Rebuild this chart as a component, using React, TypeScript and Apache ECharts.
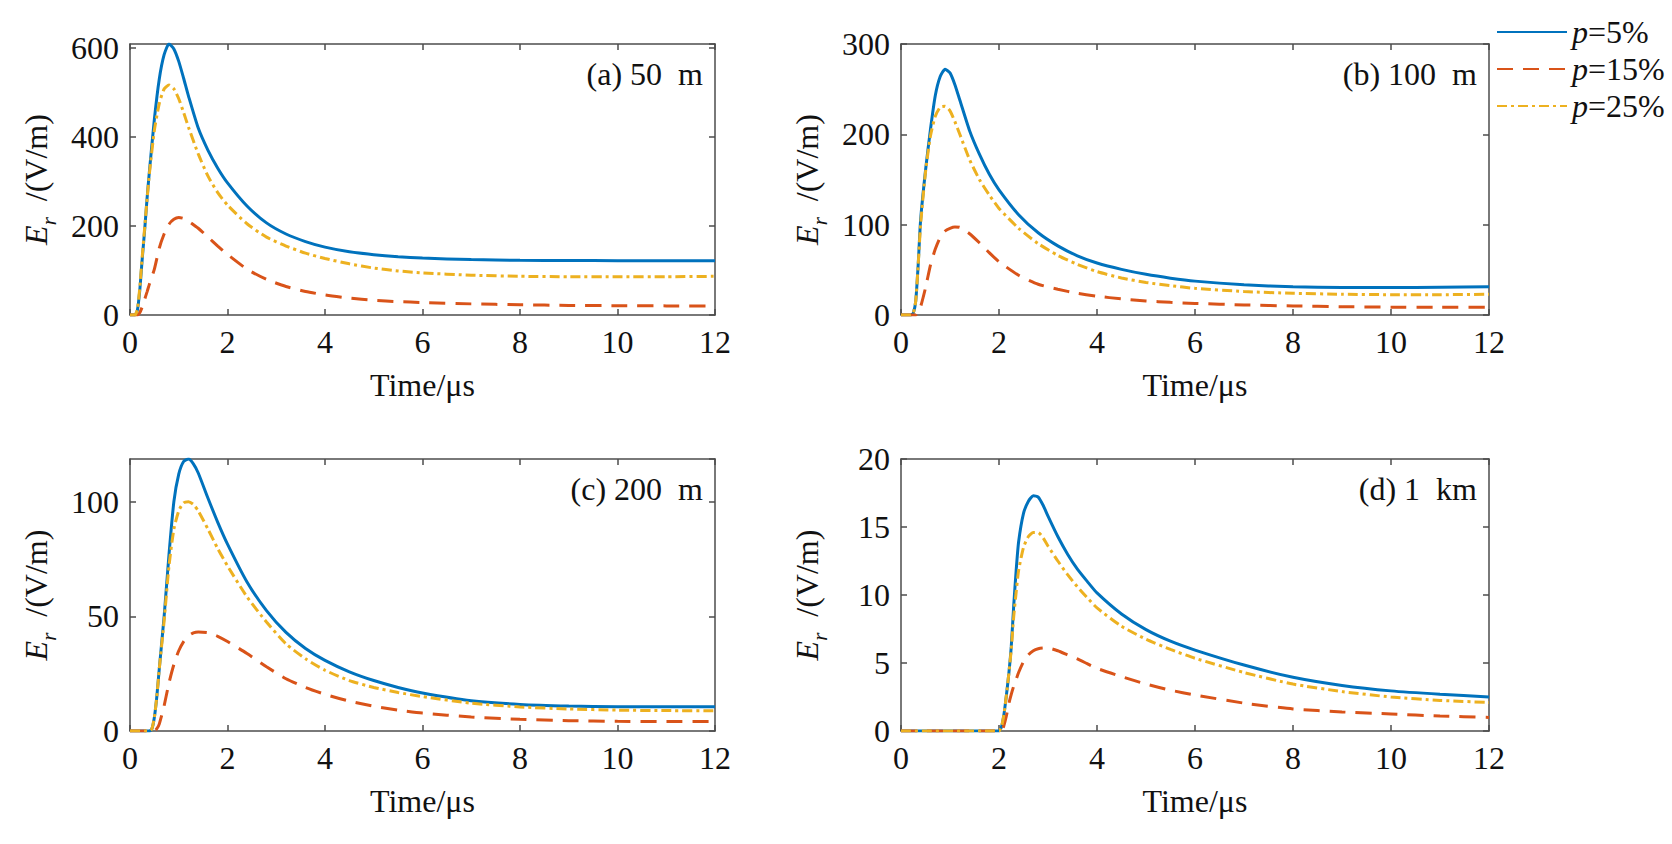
import React, { useEffect, useRef } from "react";
import * as echarts from "echarts";

// (a) 50 m
const timeA = [0, 0.1, 0.15, 0.2, 0.25, 0.3, 0.35, 0.4, 0.5, 0.6, 0.7, 0.8, 0.9, 1.0, 1.1, 1.2, 1.4, 1.6, 1.8, 2.0, 2.4, 2.8, 3.2, 3.6, 4, 4.5, 5, 5.5, 6, 7, 8, 9, 10, 11, 12];
const a5 = [0, 0, 10, 55, 125, 190, 262, 325, 440, 530, 585, 609, 598, 570, 532, 492, 420, 370, 330, 297, 245, 207, 182, 165, 152.5, 142, 135.5, 131, 128, 124.5, 123, 122.5, 122, 122, 122];
const a15 = [0, 0, 0, 5, 18, 35, 52, 70, 103, 150, 182, 204, 215, 219, 217, 211, 195, 175, 155, 136, 103, 80, 64, 53, 45, 38, 33, 30, 28, 25, 23, 21.5, 21, 20.5, 20.5];
const a25 = [0, 0, 12, 60, 130, 195, 260, 320, 415, 475, 508, 517, 508, 486, 455, 422, 362, 312, 275, 247, 205, 175, 155, 139, 127, 115, 105.5, 99, 94.5, 89.5, 87, 86, 86, 86, 87];

// (b) 100 m
const timeB = [0, 0.2, 0.25, 0.3, 0.35, 0.4, 0.5, 0.6, 0.7, 0.8, 0.9, 1.0, 1.1, 1.2, 1.4, 1.6, 1.8, 2.0, 2.4, 2.8, 3.2, 3.6, 4, 4.5, 5, 5.5, 6, 7, 8, 9, 10, 11, 12];
const b5 = [0, 0, 2, 15, 55, 105, 160, 205, 243, 264, 272, 268, 255, 238, 204, 178, 156, 138.5, 111, 91, 76.5, 65.5, 57.5, 50.5, 45, 40.8, 37.5, 33.5, 31.2, 30.4, 30.4, 30.8, 31.2];
const b15 = [0, 0, 0, 0, 3, 9, 30, 55, 73, 86, 93, 96, 97.5, 97, 90, 80, 69, 59, 44, 34, 28.5, 24, 20.8, 17.8, 15.6, 14, 12.8, 11.2, 10, 9.2, 8.7, 8.5, 8.5];
const b25 = [0, 0, 2, 15, 55, 100, 158, 198, 220, 230, 231, 226, 214, 200, 172, 150, 133, 118, 96, 79, 66, 56, 48, 41, 36, 32.5, 29.5, 26, 24, 23, 22.5, 22.5, 23];

// (c) 200 m
const timeC = [0, 0.4, 0.45, 0.5, 0.55, 0.6, 0.7, 0.8, 0.9, 1.0, 1.1, 1.2, 1.3, 1.4, 1.6, 1.8, 2.0, 2.4, 2.8, 3.2, 3.6, 4, 4.5, 5, 5.5, 6, 7, 8, 9, 10, 11, 12];
const c5 = [0, 0, 1, 6, 15, 27, 50, 77, 100, 112, 117.5, 118.6, 116.5, 112.5, 101.5, 91, 81.5, 65, 52.5, 43, 36, 30.8, 25.8, 22, 19, 16.6, 13.2, 11.6, 10.9, 10.6, 10.6, 10.6];
const c15 = [0, 0, 0, 0, 1, 3, 11, 21, 29, 35, 39, 41.5, 42.8, 43.2, 42.9, 41.3, 39, 33.8, 28, 22.8, 19, 16, 13, 10.8, 9.1, 7.8, 6.1, 5.1, 4.5, 4.2, 4.1, 4.1];
const c25 = [0, 0, 1, 6, 15, 27, 48, 72, 88, 96, 99.5, 100, 98.8, 96, 88, 79.5, 72, 58.5, 47.5, 38, 31.5, 26.5, 22, 19, 16.8, 15, 12.1, 10.5, 9.6, 9.1, 8.9, 8.8];

// (d) 1 km
const timeD = [0, 1.9, 2.0, 2.05, 2.1, 2.15, 2.2, 2.25, 2.3, 2.35, 2.4, 2.5, 2.6, 2.7, 2.8, 2.9, 3.0, 3.2, 3.4, 3.6, 3.8, 4.0, 4.5, 5, 5.5, 6, 7, 8, 9, 10, 11, 12];
const d5 = [0, 0, 0, 0.3, 1.2, 2.6, 4.2, 6.2, 9.2, 11.8, 13.9, 16.0, 16.9, 17.3, 17.2, 16.6, 15.8, 14.3, 13.0, 11.9, 11.0, 10.15, 8.6, 7.45, 6.6, 5.95, 4.85, 3.95, 3.35, 2.95, 2.7, 2.5];
const d15 = [0, 0, 0, 0, 0.4, 1.1, 2.0, 2.7, 3.3, 3.8, 4.3, 5.1, 5.6, 5.9, 6.05, 6.1, 6.1, 5.9, 5.6, 5.3, 4.95, 4.6, 4.0, 3.45, 3.0, 2.65, 2.05, 1.62, 1.4, 1.25, 1.1, 1.0];
const d25 = [0, 0, 0, 0.3, 1.2, 2.6, 4.2, 6.0, 8.4, 10.2, 11.8, 13.5, 14.3, 14.6, 14.6, 14.2, 13.6, 12.5, 11.5, 10.6, 9.8, 9.05, 7.7, 6.75, 6.0, 5.35, 4.3, 3.45, 2.9, 2.5, 2.25, 2.1];

const seriesNames = ["p=5%", "p=15%", "p=25%"];
const panelLabels = ["(a) 50\u00a0 m", "(b) 100\u00a0 m", "(c) 200\u00a0 m", "(d) 1\u00a0 km"];
const xTicks = { min: 0, max: 12, interval: 2 };
const yRanges = [
  { max: 609, interval: 200 },
  { max: 300, interval: 100 },
  { max: 118.6, interval: 50 },
  { max: 20, interval: 5 },
];

const FONT = "Liberation Serif";
const AXIS_COLOR = "#4d4d4d";
const TEXT_COLOR = "#111";
const colors = ["#0072BD", "#D95319", "#EDB120"];
const lineTypes: any[] = ["solid", [16, 10], [10, 4, 3, 4]];

const grids = [
  { left: 130, top: 44, width: 585, height: 271 },
  { left: 901, top: 44, width: 588, height: 271 },
  { left: 130, top: 459, width: 585, height: 272 },
  { left: 901, top: 459, width: 588, height: 272 },
];

const panelData = [
  { time: timeA, lines: [a5, a15, a25] },
  { time: timeB, lines: [b5, b15, b25] },
  { time: timeC, lines: [c5, c15, c25] },
  { time: timeD, lines: [d5, d15, d25] },
];

const App = () => {
  const chartRef = useRef<HTMLDivElement>(null);

  useEffect(() => {
    if (!chartRef.current) return;
    const chart = echarts.init(chartRef.current, null, { renderer: "svg" });

    const xAxis: any[] = [];
    const yAxis: any[] = [];
    const series: any[] = [];
    const graphic: any[] = [];

    grids.forEach((g, i) => {
      const tick = { show: true, inside: true, length: 6, lineStyle: { color: AXIS_COLOR, width: 1.5 } };
      const line = { show: true, onZero: false, lineStyle: { color: AXIS_COLOR, width: 1.5 } };
      // bottom + top x axes (box with ticks on every side)
      xAxis.push({
        type: "value", gridIndex: i, position: "bottom", ...xTicks,
        axisLine: line, axisTick: tick, splitLine: { show: false },
        axisLabel: { fontSize: 32, fontFamily: FONT, color: TEXT_COLOR, margin: 11, lineHeight: 32 },
        name: "Time/\u03bcs", nameLocation: "middle", nameGap: 54,
        nameTextStyle: { fontSize: 32, fontFamily: FONT, color: TEXT_COLOR, lineHeight: 32 },
      });
      xAxis.push({
        type: "value", gridIndex: i, position: "top", ...xTicks,
        axisLine: line, axisTick: tick, splitLine: { show: false }, axisLabel: { show: false },
      });
      const yr = { min: 0, max: yRanges[i].max, interval: yRanges[i].interval };
      yAxis.push({
        type: "value", gridIndex: i, position: "left", ...yr,
        axisLine: line, axisTick: tick, splitLine: { show: false },
        axisLabel: { fontSize: 32, fontFamily: FONT, color: TEXT_COLOR, margin: 11, showMaxLabel: yRanges[i].max % yRanges[i].interval === 0 },
        name: "{e|E}{r|r}{n|  /(V/m)}", nameLocation: "middle", nameGap: 78, nameRotate: 90,
        nameTextStyle: {
          fontSize: 32, fontFamily: FONT, color: TEXT_COLOR,
          rich: {
            e: { fontSize: 32, fontFamily: FONT, fontStyle: "italic", color: TEXT_COLOR, lineHeight: 32 },
            r: { fontSize: 21, fontFamily: FONT, fontStyle: "italic", color: TEXT_COLOR, height: 6, lineHeight: 6, verticalAlign: "bottom" },
            n: { fontSize: 32, fontFamily: FONT, color: TEXT_COLOR, lineHeight: 32 },
          },
        },
      });
      yAxis.push({
        type: "value", gridIndex: i, position: "right", ...yr,
        axisLine: line, axisTick: tick, splitLine: { show: false }, axisLabel: { show: false },
      });

      panelData[i].lines.forEach((vals, k) => {
        series.push({
          type: "line", name: seriesNames[k], xAxisIndex: 2 * i, yAxisIndex: 2 * i,
          data: panelData[i].time.map((t, j) => [t, vals[j]]),
          symbol: "none", showSymbol: false, smooth: 0.2,
          lineStyle: { color: colors[k], width: 3, type: lineTypes[k] },
          itemStyle: { color: colors[k] },
          z: 2 + k,
        });
      });

      graphic.push({
        type: "text",
        x: g.left + g.width - 12,
        y: g.top + 30,
        style: {
          text: panelLabels[i], fontSize: 32, fontFamily: FONT, fill: TEXT_COLOR,
          align: "right", verticalAlign: "middle", textAlign: "right", textVerticalAlign: "middle",
        },
      });
    });

    const option: echarts.EChartsCoreOption = {
      animation: false,
      backgroundColor: "#fff",
      grid: grids.map((g) => ({ ...g, containLabel: false })),
      xAxis,
      yAxis,
      series,
      graphic,
      legend: {
        data: seriesNames,
        orient: "vertical",
        left: 1491,
        top: 9,
        itemWidth: 70,
        itemHeight: 1,
        itemGap: 1,
        selectedMode: false,
        itemStyle: { opacity: 0, borderWidth: 0 },
        formatter: (n: string) => `{i|p}{t|${n.slice(1)}}`,
        textStyle: {
          fontSize: 32, fontFamily: FONT, color: TEXT_COLOR, lineHeight: 36,
          rich: {
            i: { fontSize: 32, fontFamily: FONT, fontStyle: "italic", color: TEXT_COLOR, lineHeight: 36 },
            t: { fontSize: 32, fontFamily: FONT, color: TEXT_COLOR, lineHeight: 36 },
          },
        },
      },
    };

    chart.setOption(option);
    return () => chart.dispose();
  }, []);

  return (
    <div
      ref={chartRef}
      style={{ position: "fixed", left: 0, top: 0, width: "1672px", height: "844px" }}
    />
  );
};

export default App;
